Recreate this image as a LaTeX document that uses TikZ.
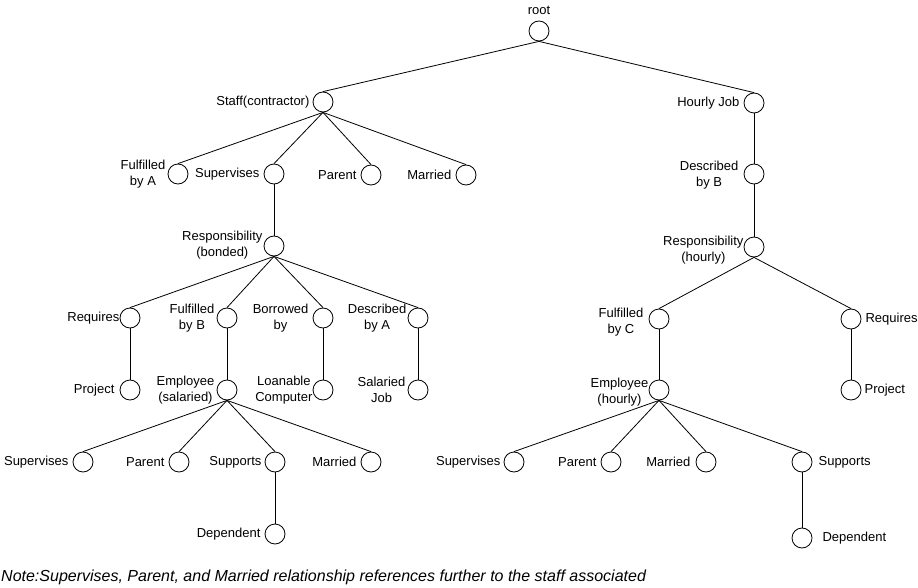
\documentclass[tikz,border=0pt]{standalone}
\usepackage{fontspec}
\setmainfont{Liberation Sans}
\begin{document}
\begin{tikzpicture}[x=1pt,y=-1pt,
  nd/.style={circle,draw,minimum size=20pt,inner sep=0pt,line width=0.8pt},
  lab/.style={font=\fontsize{13}{16}\selectfont,inner sep=0pt,align=center},
  edge/.style={line width=0.8pt}]
\useasboundingbox (0,0) rectangle (918,588);
% circles
\node[nd] (root) at (539,31) {};
\node[nd] (staff) at (323,102) {};
\node[nd] (hourly) at (754,103) {};
\node[nd] (fA) at (178,174) {};
\node[nd] (sup1) at (274,174) {};
\node[nd] (par1) at (371,175) {};
\node[nd] (mar1) at (466,175) {};
\node[nd] (resB) at (274,246) {};
\node[nd] (req1) at (130,318) {};
\node[nd] (fB) at (227,318) {};
\node[nd] (bor) at (323,318) {};
\node[nd] (dA) at (418,318) {};
\node[nd] (proj1) at (130,390) {};
\node[nd] (emps) at (227,390) {};
\node[nd] (loan) at (323,390) {};
\node[nd] (salj) at (418,390) {};
\node[nd] (sup2) at (83,462) {};
\node[nd] (par2) at (179,462) {};
\node[nd] (supp1) at (275,462) {};
\node[nd] (mar2) at (371,462) {};
\node[nd] (dep1) at (275,534) {};
\node[nd] (dB) at (754,174) {};
\node[nd] (resH) at (754,247) {};
\node[nd] (fC) at (659,319) {};
\node[nd] (req2) at (851,319) {};
\node[nd] (emph) at (659,390) {};
\node[nd] (proj2) at (851,390) {};
\node[nd] (sup3) at (514,462) {};
\node[nd] (par3) at (611,462) {};
\node[nd] (mar3) at (706,462) {};
\node[nd] (supp2) at (802,462) {};
\node[nd] (dep2) at (802,538) {};
% edges
\foreach \a/\b in {root/staff,root/hourly,staff/fA,staff/sup1,staff/par1,staff/mar1,
  sup1/resB,resB/req1,resB/fB,resB/bor,resB/dA,req1/proj1,fB/emps,bor/loan,dA/salj,
  emps/sup2,emps/par2,emps/supp1,emps/mar2,supp1/dep1,
  hourly/dB,dB/resH,resH/fC,resH/req2,fC/emph,req2/proj2,
  emph/sup3,emph/par3,emph/mar3,emph/supp2,supp2/dep2}
  \draw[edge] (\a.south) -- (\b.north);
% labels
\node[lab] (troot) at (539,10) {root};
\node[lab,anchor=east] (tstaff) at ([xshift=-3]staff.west) {Staff(contractor)};
\node[lab,anchor=east] (thourly) at ([xshift=-4]hourly.west) {Hourly Job};
\node[lab,anchor=east] (tfA) at ([xshift=-2]fA.west) {Fulfilled\\by A};
\node[lab,anchor=east] (tsup1) at ([xshift=-4]sup1.west) {Supervises};
\node[lab,anchor=east] (tpar1) at ([xshift=-4]par1.west) {Parent};
\node[lab,anchor=east] (tmar1) at ([xshift=-4]mar1.west) {Married};
\node[lab,anchor=east] (tresB) at ([xshift=-1,yshift=1]resB.west) {Responsibility\\(bonded)};
\node[lab,anchor=east] (treq1) at ([xshift=0]req1.west) {Requires};
\node[lab,anchor=east] (tfB) at ([xshift=-2]fB.west) {Fulfilled\\by B};
\node[lab,anchor=east] (tbor) at ([xshift=-4]bor.west) {Borrowed\\by};
\node[lab,anchor=east] (tdA) at ([xshift=-1]dA.west) {Described\\by A};
\node[lab,anchor=east] (tproj1) at ([xshift=-5]proj1.west) {Project};
\node[lab,anchor=east] (temps) at ([xshift=-2]emps.west) {Employee\\(salaried)};
\node[lab,anchor=east] (tloan) at ([xshift=0]loan.west) {Loanable\\Computer};
\node[lab,anchor=east] (tsalj) at ([xshift=-2]salj.west) {Salaried\\Job};
\node[lab,anchor=east] (tsup2) at ([xshift=-4]sup2.west) {Supervises};
\node[lab,anchor=east] (tpar2) at ([xshift=-4]par2.west) {Parent};
\node[lab,anchor=east] (tsupp1) at ([xshift=-3]supp1.west) {Supports};
\node[lab,anchor=east] (tmar2) at ([xshift=-4]mar2.west) {Married};
\node[lab,anchor=east] (tdep1) at ([xshift=-4]dep1.west) {Dependent};
\node[lab,anchor=east] (tdB) at ([xshift=-5,yshift=-1]dB.west) {Described\\by B};
\node[lab,anchor=east] (tresH) at ([xshift=0,yshift=-3]resH.west) {Responsibility\\(hourly)};
\node[lab,anchor=east] (tfC) at ([xshift=-5,yshift=-3]fC.west) {Fulfilled\\by C};
\node[lab,anchor=west] (treq2) at ([xshift=4]req2.east) {Requires};
\node[lab,anchor=east] (temph) at ([xshift=0,yshift=-2]emph.west) {Employee\\(hourly)};
\node[lab,anchor=west] (tproj2) at ([xshift=3]proj2.east) {Project};
\node[lab,anchor=east] (tsup3) at ([xshift=-3]sup3.west) {Supervises};
\node[lab,anchor=east] (tpar3) at ([xshift=-4]par3.west) {Parent};
\node[lab,anchor=east] (tmar3) at ([xshift=-5]mar3.west) {Married};
\node[lab,anchor=west] (tsupp2) at ([xshift=6]supp2.east) {Supports};
\node[lab,anchor=west] (tdep2) at ([xshift=10]dep2.east) {Dependent};
% note
\node[lab,anchor=west,font=\fontsize{16}{18}\selectfont\itshape] (note) at (1,577)
  {Note:Supervises, Parent, and Married relationship references further to the staff associated};
\end{tikzpicture}
\end{document}
